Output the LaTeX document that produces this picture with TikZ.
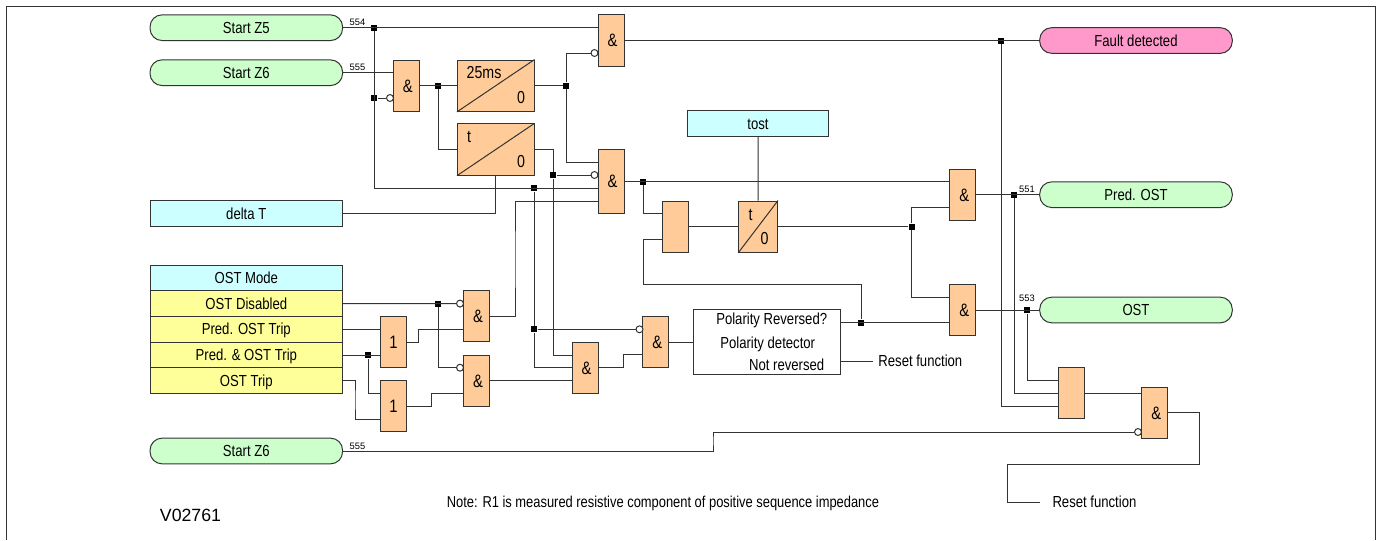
\documentclass[tikz,border=0pt]{standalone}
\usepackage{fontspec}
\setmainfont[FakeStretch=0.82]{Liberation Sans}
\newfontfamily\plainfont{Liberation Sans}
\usetikzlibrary{positioning}
\definecolor{pillgreen}{HTML}{CCFFCC}
\definecolor{pillpink}{HTML}{FF99CC}
\definecolor{setcyan}{HTML}{CCFFFF}
\definecolor{rowyellow}{HTML}{FFFF99}
\definecolor{gateorange}{HTML}{FFCC99}
\definecolor{wire}{HTML}{333333}

\begin{document}
\begin{tikzpicture}[x=0.75pt, y=-0.75pt, on grid, line width=0.75pt, draw=wire,
   every node/.style={font=\fontsize{12}{14}\selectfont, inner sep=0pt},
   captext/.style={text height=8.4pt, text depth=0pt},
   pill/.style={draw, captext, rounded corners=9pt, minimum width=144.4pt, minimum height=19.25pt},
   setbox/.style={draw, captext, fill=setcyan, minimum width=144.4pt, minimum height=19.25pt},
   rowbox/.style={draw, captext, fill=rowyellow, minimum width=144.4pt, minimum height=19.25pt},
   gate/.style={draw, fill=gateorange, minimum width=19.5pt, minimum height=38.5pt, font=\fontsize{13.5}{15}\selectfont},
   andgate/.style={gate, text height=9.6pt, text depth=0pt, execute at begin node=\hspace{2.2pt}},
   timer/.style={draw, fill=gateorange, minimum width=57.4pt, minimum height=38.5pt},
   timertext/.style={font=\fontsize{13}{15}\selectfont},
   dot/.style={fill=black, minimum size=4.5pt},
   inv/.style={draw, circle, fill=white, minimum size=5.2pt},
   pinlabel/.style={font=\plainfont\fontsize{7}{8}\selectfont},
   endtext/.style={captext, inner xsep=3.7pt, anchor=west}]
   \useasboundingbox (0,0) rectangle (1379,540);
   \draw (6,540) |- (1375,6.5) -- (1375,540);

   \node[pill, fill=pillgreen] (start_a) at (246.3,27.7) {Start Z5};
   \node[pill, fill=pillgreen] (start_b) at (246.3,72.7) {Start Z6};
   \node[pill, fill=pillgreen] (start_c) at (246.3,451) {Start Z6};
   \node[pill, fill=pillpink] (fault) at (1136,40.5) {Fault detected};
   \node[pill, fill=pillgreen] (pred_ost) at (1136,194.7) {Pred. OST};
   \node[pill, fill=pillgreen] (ost) at (1136,310) {OST};

   \node[setbox] (delta_t) at (246.3,213.7) {delta T};
   \node[setbox, minimum width=105.75pt] (tost) at (758,123.8) {tost};
   \node[setbox] (mode) at (246.3,278) {OST Mode};
   \node[rowbox] (row_a) [below=19.25pt of mode] {OST Disabled};
   \node[rowbox] (row_b) [below=19.25pt of row_a] {Pred. OST Trip};
   \node[rowbox] (row_c) [below=19.25pt of row_b] {Pred. \& OST Trip};
   \node[rowbox] (row_d) [below=19.25pt of row_c] {OST Trip};

   \node[andgate] (and_a) at (406.3,85.7) {\&};
   \node[andgate] (and_b) at (611,40.5) {\&};
   \node[andgate, minimum height=48pt] (and_c) at (611,181.5) {\&};
   \node[andgate] (and_d) at (476.6,316.3) {\&};
   \node[andgate] (and_e) at (476.6,380.7) {\&};
   \node[andgate] (and_f) at (585,367.7) {\&};
   \node[andgate] (and_g) at (655.8,342) {\&};
   \node[andgate] (and_h) at (962.8,194.7) {\&};
   \node[andgate] (and_i) at (962.8,310) {\&};
   \node[andgate] (and_j) at (1154.7,412.7) {\&};
   \node[gate] (or_a) at (393.5,342) {1};
   \node[gate] (or_b) at (393.5,406.3) {1};
   \node[gate] (blank_a) at (675,226.7) {};
   \node[gate] (blank_b) at (1071.8,393.3) {};

   \node[timer] (timer_a) at (495.75,85.7) {};
   \node[timer] (timer_b) at (495.75,149.5) {};
   \node[timer, minimum width=29.1pt] (timer_c) at (758.1,226.7) {};
   \draw (timer_a.south west) -- (timer_a.north east);
   \draw (timer_b.south west) -- (timer_b.north east);
   \draw (timer_c.south west) -- (timer_c.north east);
   \node[timertext] (time_a) at (484,72.7) {25ms};
   \node[timertext] (zero_a) at (521,98) {0};
   \node[timertext] (time_b) at (469,137) {t};
   \node[timertext] (zero_b) at (521,162) {0};
   \node[timertext] (time_c) at (750.5,214.7) {t};
   \node[timertext] (zero_c) at (764.5,239) {0};

   \node[draw, fill=white, minimum width=109.9pt, minimum height=48.4pt] (polarity) at (767.2,342.2) {};
   \node[captext] (pol_a) at (771.7,319) {Polarity Reversed?};
   \node[captext] (pol_b) at (767.7,342.7) {Polarity detector};
   \node[captext] (pol_c) at (786.7,364.7) {Not reversed};
   \node[endtext] (reset_a) at (873,361.3) {Reset function};
   \node[endtext, inner xsep=9pt] (reset_b) at (1040,502.3) {Reset function};

   \node[pinlabel] (pin_554) at (357.5,22.7) {554};
   \node[pinlabel] (pin_555) at (357.5,67.7) {555};
   \node[pinlabel] (pin_555b) at (357.5,446) {555};
   \node[pinlabel] (pin_551) at (1027,189) {551};
   \node[pinlabel] (pin_553) at (1027,298) {553};

   \node[dot] (j_a) at (374,27.7) {};
   \node[dot] (j_b) at (374,98) {};
   \node[dot] (j_c) at (438,85.7) {};
   \node[dot] (j_d) at (566,85.7) {};
   \node[dot] (j_e) at (553.3,175) {};
   \node[dot] (j_f) at (534,188) {};
   \node[dot] (j_g) at (534,329.3) {};
   \node[dot] (j_h) at (438,303.6) {};
   \node[dot] (j_i) at (368,355) {};
   \node[dot] (j_k) at (643,181.5) {};
   \node[dot] (j_l) at (861,322.7) {};
   \node[dot] (j_m) at (911.8,226.7) {};
   \node[dot] (j_n) at (1014,194.7) {};
   \node[dot] (j_o) at (1027,310) {};
   \node[dot] (j_p) at (1001,40.5) {};

   \node[inv] (inv_a) at (390,98) {};
   \node[inv] (inv_b) at (594.5,53) {};
   \node[inv] (inv_c) at (594.5,175) {};
   \node[inv] (inv_d) at (460,303.6) {};
   \node[inv] (inv_e) at (460,367.7) {};
   \node[inv] (inv_f) at (639.5,329.3) {};
   \node[inv] (inv_g) at (1138,432) {};

   \node[captext, font=\fontsize{11.8}{14}\selectfont] (note) at (663,502) {Note: R1 is measured resistive component of positive sequence impedance};
   \node[font=\plainfont\fontsize{13.3}{15}\selectfont] (code) at (190.5,515) {V02761};

   \draw (start_a) -- (and_b.west |- start_a);
   \draw (start_b) -- (and_a.west |- start_b);
   \draw (j_a) |- (and_c.west |- 0,188);
   \draw (j_b) -- (inv_a);
   \draw (and_a) -- (timer_a);
   \draw (j_c) |- (timer_b);
   \draw (timer_a) -- (j_d);
   \draw (inv_b) -| (j_d) |- (and_c.west |- 0,162);
   \draw (timer_b) -| (j_e) |- (and_f.west |- 0,355);
   \draw (j_e) -- (inv_c);
   \draw (j_f) -- (j_g) |- (and_f.west |- 0,367.7);
   \draw (j_g) -- (inv_f);
   \draw (delta_t) -| (timer_b);
   \draw (and_b) -- (fault);
   \draw (and_c) -- (and_h.west |- and_c);
   \draw (j_k) |- (blank_a.west |- 0,213.7);
   \draw (and_d) -| (515,260) |- (and_c.west |- 0,201);

   \draw (row_a) -- (inv_d);
   \draw (row_b) -- (or_a.west |- row_b);
   \draw (row_c) -- (or_a.west |- row_c);
   \draw (j_i) |- (or_b.west |- 0,393.5);
   \draw (row_d) -| (355,400) |- (or_b.west |- 0,419);
   \draw (or_a) -| (418.5,335) |- (and_d.west |- 0,329.3);
   \draw (or_b) -| (431.5,400) |- (and_e.west |- 0,393.5);
   \draw (j_h) |- (inv_e);
   \draw (and_e) -- (and_f.west |- and_e);
   \draw (and_f) -| (623.5,360) |- (and_g.west |- 0,354.7);
   \draw (and_g) -- (polarity.west |- and_g);

   \draw (polarity.east |- j_l) -- (and_i.west |- j_l);
   \draw (j_l) |- (643,284) |- (blank_a.west |- 0,239.5);
   \draw (polarity.east |- reset_a) -- (reset_a);
   \draw (blank_a) -- (timer_c);
   \draw (tost) -- (timer_c);
   \draw (timer_c) -- (j_m);
   \draw (j_m) |- (and_h.west |- 0,207);
   \draw (j_m) |- (and_i.west |- 0,297.3);
   \draw (and_h) -- (pred_ost);
   \draw (and_i) -- (ost);

   \draw (j_p) |- (blank_b.west |- 0,406.3);
   \draw (j_n) |- (blank_b.west |- 0,393.3);
   \draw (j_o) |- (blank_b.west |- 0,380.3);
   \draw (blank_b) -- (and_j.west |- blank_b);
   \draw (start_c) -| (713,440) |- (inv_g);
   \draw (and_j) -| (1199.7,464) -- (1007.7,464) |- (reset_b);
\end{tikzpicture}
\end{document}
